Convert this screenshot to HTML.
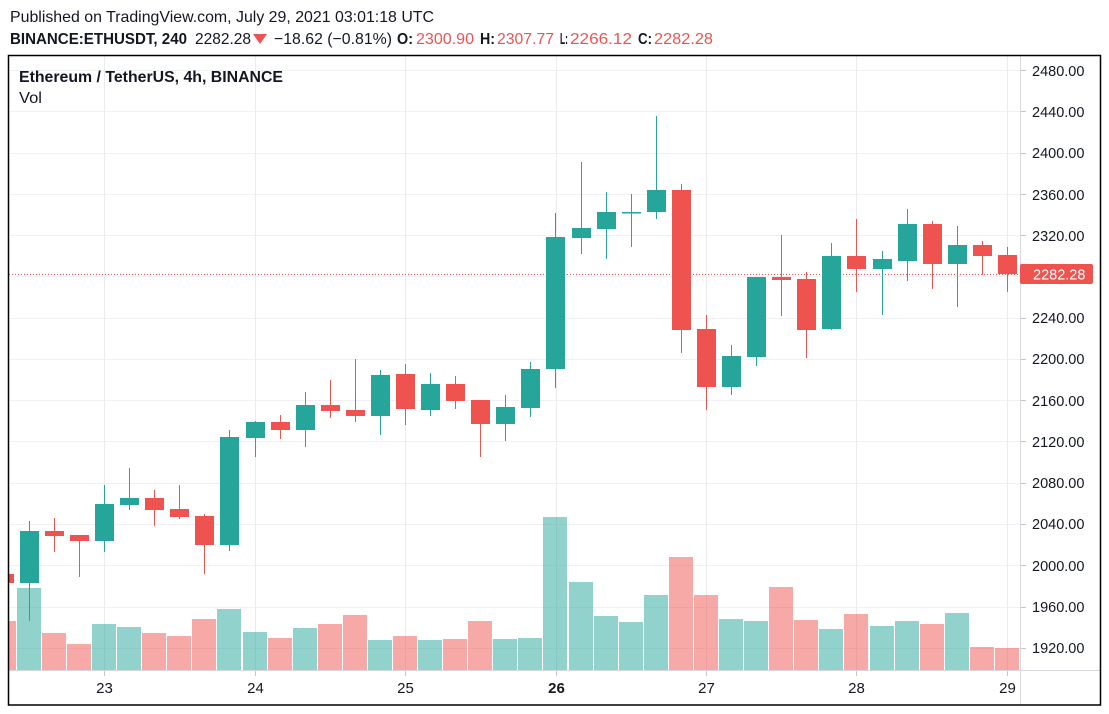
<!DOCTYPE html>
<html><head><meta charset="utf-8"><style>
html,body{margin:0;padding:0;background:#fff;}
svg{display:block;font-family:"Liberation Sans",Arial,sans-serif;}
</style></head><body>
<svg width="1109" height="714" viewBox="0 0 1109 714" xmlns="http://www.w3.org/2000/svg">
<rect x="0" y="0" width="1109" height="714" fill="#fff"/>
<!-- header -->
<text x="10" y="22" font-size="16" fill="#131722" textLength="424" lengthAdjust="spacingAndGlyphs">Published on TradingView.com, July 29, 2021 03:01:18 UTC</text>
<g font-size="16" fill="#131722">
<text x="10" y="44" font-weight="bold" textLength="177" lengthAdjust="spacingAndGlyphs">BINANCE:ETHUSDT, 240</text>
<text x="195" y="44" textLength="56" lengthAdjust="spacingAndGlyphs">2282.28</text>
<polygon points="253,34 267,34 260,44" fill="#ef5350"/>
<text x="274" y="44" textLength="118" lengthAdjust="spacingAndGlyphs">−18.62 (−0.81%)</text>
<text x="397" y="44" font-weight="bold" textLength="16" lengthAdjust="spacingAndGlyphs">O:</text>
<text x="416" y="44" fill="#ef5350" textLength="58" lengthAdjust="spacingAndGlyphs">2300.90</text>
<text x="480" y="44" font-weight="bold" textLength="15" lengthAdjust="spacingAndGlyphs">H:</text>
<text x="497" y="44" fill="#ef5350" textLength="57" lengthAdjust="spacingAndGlyphs">2307.77</text>
<text x="560" y="44" font-weight="bold" textLength="8" lengthAdjust="spacingAndGlyphs">L:</text>
<text x="570" y="44" fill="#ef5350" textLength="62" lengthAdjust="spacingAndGlyphs">2266.12</text>
<text x="638" y="44" font-weight="bold" textLength="14" lengthAdjust="spacingAndGlyphs">C:</text>
<text x="654" y="44" fill="#ef5350" textLength="59" lengthAdjust="spacingAndGlyphs">2282.28</text>
</g>
<defs><clipPath id="pane"><rect x="9" y="56" width="1011" height="614"/></clipPath></defs>
<!-- grid -->
<g stroke="#f0f1f4" stroke-width="1">
<line x1="9" x2="1020" y1="70.5" y2="70.5"/>
<line x1="9" x2="1020" y1="111.5" y2="111.5"/>
<line x1="9" x2="1020" y1="153.5" y2="153.5"/>
<line x1="9" x2="1020" y1="194.5" y2="194.5"/>
<line x1="9" x2="1020" y1="235.5" y2="235.5"/>
<line x1="9" x2="1020" y1="276.5" y2="276.5"/>
<line x1="9" x2="1020" y1="318.5" y2="318.5"/>
<line x1="9" x2="1020" y1="359.5" y2="359.5"/>
<line x1="9" x2="1020" y1="400.5" y2="400.5"/>
<line x1="9" x2="1020" y1="441.5" y2="441.5"/>
<line x1="9" x2="1020" y1="483.5" y2="483.5"/>
<line x1="9" x2="1020" y1="524.5" y2="524.5"/>
<line x1="9" x2="1020" y1="565.5" y2="565.5"/>
<line x1="9" x2="1020" y1="607.5" y2="607.5"/>
<line x1="9" x2="1020" y1="648.5" y2="648.5"/>
</g>
<g stroke="#ebebee" stroke-width="1">
<line x1="104.5" x2="104.5" y1="56" y2="670"/>
<line x1="255.5" x2="255.5" y1="56" y2="670"/>
<line x1="405.5" x2="405.5" y1="56" y2="670"/>
<line x1="556.5" x2="556.5" y1="56" y2="670"/>
<line x1="706.5" x2="706.5" y1="56" y2="670"/>
<line x1="856.5" x2="856.5" y1="56" y2="670"/>
<line x1="1007.5" x2="1007.5" y1="56" y2="670"/>
</g>
<g clip-path="url(#pane)">
<!-- volume -->
<g>
<rect x="-8" y="621" width="24" height="49" fill="rgba(239,83,80,0.5)"/>
<rect x="17" y="588" width="24" height="82" fill="rgba(38,166,154,0.5)"/>
<rect x="42" y="633" width="24" height="37" fill="rgba(239,83,80,0.5)"/>
<rect x="67" y="644" width="24" height="26" fill="rgba(239,83,80,0.5)"/>
<rect x="92" y="624" width="24" height="46" fill="rgba(38,166,154,0.5)"/>
<rect x="117" y="627" width="24" height="43" fill="rgba(38,166,154,0.5)"/>
<rect x="142" y="633" width="24" height="37" fill="rgba(239,83,80,0.5)"/>
<rect x="167" y="636" width="24" height="34" fill="rgba(239,83,80,0.5)"/>
<rect x="192" y="619" width="24" height="51" fill="rgba(239,83,80,0.5)"/>
<rect x="217" y="609" width="24" height="61" fill="rgba(38,166,154,0.5)"/>
<rect x="243" y="632" width="24" height="38" fill="rgba(38,166,154,0.5)"/>
<rect x="268" y="638" width="24" height="32" fill="rgba(239,83,80,0.5)"/>
<rect x="293" y="628" width="24" height="42" fill="rgba(38,166,154,0.5)"/>
<rect x="318" y="624" width="24" height="46" fill="rgba(239,83,80,0.5)"/>
<rect x="343" y="615" width="24" height="55" fill="rgba(239,83,80,0.5)"/>
<rect x="368" y="640" width="24" height="30" fill="rgba(38,166,154,0.5)"/>
<rect x="393" y="636" width="24" height="34" fill="rgba(239,83,80,0.5)"/>
<rect x="418" y="640" width="24" height="30" fill="rgba(38,166,154,0.5)"/>
<rect x="443" y="639" width="24" height="31" fill="rgba(239,83,80,0.5)"/>
<rect x="468" y="621" width="24" height="49" fill="rgba(239,83,80,0.5)"/>
<rect x="493" y="639" width="24" height="31" fill="rgba(38,166,154,0.5)"/>
<rect x="518" y="638" width="24" height="32" fill="rgba(38,166,154,0.5)"/>
<rect x="543" y="517" width="24" height="153" fill="rgba(38,166,154,0.5)"/>
<rect x="569" y="582" width="24" height="88" fill="rgba(38,166,154,0.5)"/>
<rect x="594" y="616" width="24" height="54" fill="rgba(38,166,154,0.5)"/>
<rect x="619" y="622" width="24" height="48" fill="rgba(38,166,154,0.5)"/>
<rect x="644" y="595" width="24" height="75" fill="rgba(38,166,154,0.5)"/>
<rect x="669" y="557" width="24" height="113" fill="rgba(239,83,80,0.5)"/>
<rect x="694" y="595" width="24" height="75" fill="rgba(239,83,80,0.5)"/>
<rect x="719" y="619" width="24" height="51" fill="rgba(38,166,154,0.5)"/>
<rect x="744" y="621" width="24" height="49" fill="rgba(38,166,154,0.5)"/>
<rect x="769" y="587" width="24" height="83" fill="rgba(239,83,80,0.5)"/>
<rect x="794" y="620" width="24" height="50" fill="rgba(239,83,80,0.5)"/>
<rect x="819" y="629" width="24" height="41" fill="rgba(38,166,154,0.5)"/>
<rect x="844" y="614" width="24" height="56" fill="rgba(239,83,80,0.5)"/>
<rect x="870" y="626" width="24" height="44" fill="rgba(38,166,154,0.5)"/>
<rect x="895" y="621" width="24" height="49" fill="rgba(38,166,154,0.5)"/>
<rect x="920" y="624" width="24" height="46" fill="rgba(239,83,80,0.5)"/>
<rect x="945" y="613" width="24" height="57" fill="rgba(38,166,154,0.5)"/>
<rect x="970" y="647" width="24" height="23" fill="rgba(239,83,80,0.5)"/>
<rect x="995" y="648" width="24" height="22" fill="rgba(239,83,80,0.5)"/>
</g>
<!-- last price dotted line -->
<line x1="9" x2="1020" y1="274.5" y2="274.5" stroke="#ef5350" stroke-width="1" stroke-dasharray="1,2"/>
<!-- candles: wick then body -->
<g fill="#ef5350">
<rect x="-5" y="574" width="19" height="9"/>
<rect x="54" y="518" width="1" height="34"/><rect x="45" y="531" width="19" height="5"/>
<rect x="79" y="535" width="1" height="42"/><rect x="70" y="535" width="19" height="6"/>
<rect x="154" y="490" width="1" height="36"/><rect x="145" y="498" width="19" height="12"/>
<rect x="179" y="485" width="1" height="34"/><rect x="170" y="509" width="19" height="8"/>
<rect x="204" y="514" width="1" height="60"/><rect x="195" y="516" width="19" height="29"/>
<rect x="280" y="415" width="1" height="24"/><rect x="271" y="422" width="19" height="8"/>
<rect x="330" y="380" width="1" height="38"/><rect x="321" y="405" width="19" height="6"/>
<rect x="355" y="359" width="1" height="63"/><rect x="346" y="410" width="19" height="6"/>
<rect x="405" y="364" width="1" height="61"/><rect x="396" y="374" width="19" height="35"/>
<rect x="455" y="376" width="1" height="33"/><rect x="446" y="384" width="19" height="17"/>
<rect x="480" y="400" width="1" height="57"/><rect x="471" y="400" width="19" height="24"/>
<rect x="681" y="184" width="1" height="169"/><rect x="672" y="190" width="19" height="140"/>
<rect x="706" y="315" width="1" height="95"/><rect x="697" y="329" width="19" height="58"/>
<rect x="781" y="235" width="1" height="81"/><rect x="772" y="277" width="19" height="3"/>
<rect x="806" y="272" width="1" height="86"/><rect x="797" y="279" width="19" height="51"/>
<rect x="856" y="219" width="1" height="73"/><rect x="847" y="256" width="19" height="13"/>
<rect x="932" y="221" width="1" height="68"/><rect x="923" y="224" width="19" height="40"/>
<rect x="982" y="241" width="1" height="34"/><rect x="973" y="245" width="19" height="11"/>
<rect x="1007" y="247" width="1" height="45"/><rect x="998" y="255" width="19" height="19"/>
</g>
<g fill="#26a69a">
<rect x="29" y="521" width="1" height="100"/><rect x="20" y="531" width="19" height="52"/>
<rect x="104" y="485" width="1" height="67"/><rect x="95" y="504" width="19" height="37"/>
<rect x="129" y="468" width="1" height="42"/><rect x="120" y="498" width="19" height="7"/>
<rect x="229" y="430" width="1" height="121"/><rect x="220" y="437" width="19" height="108"/>
<rect x="255" y="421" width="1" height="36"/><rect x="246" y="422" width="19" height="16"/>
<rect x="305" y="392" width="1" height="55"/><rect x="296" y="405" width="19" height="25"/>
<rect x="380" y="370" width="1" height="65"/><rect x="371" y="375" width="19" height="41"/>
<rect x="430" y="373" width="1" height="43"/><rect x="421" y="384" width="19" height="26"/>
<rect x="505" y="395" width="1" height="46"/><rect x="496" y="407" width="19" height="17"/>
<rect x="530" y="362" width="1" height="55"/><rect x="521" y="369" width="19" height="39"/>
<rect x="555" y="213" width="1" height="175"/><rect x="546" y="237" width="19" height="132"/>
<rect x="581" y="162" width="1" height="92"/><rect x="572" y="228" width="19" height="10"/>
<rect x="606" y="192" width="1" height="67"/><rect x="597" y="212" width="19" height="17"/>
<rect x="631" y="194" width="1" height="53"/><rect x="622" y="212" width="19" height="1.5"/>
<rect x="656" y="116" width="1" height="103"/><rect x="647" y="190" width="19" height="22"/>
<rect x="731" y="345" width="1" height="50"/><rect x="722" y="356" width="19" height="31"/>
<rect x="756" y="277" width="1" height="89"/><rect x="747" y="277" width="19" height="80"/>
<rect x="831" y="243" width="1" height="87"/><rect x="822" y="256" width="19" height="73"/>
<rect x="882" y="251" width="1" height="64"/><rect x="873" y="259" width="19" height="10"/>
<rect x="907" y="209" width="1" height="72"/><rect x="898" y="224" width="19" height="37"/>
<rect x="957" y="226" width="1" height="81"/><rect x="948" y="245" width="19" height="19"/>
</g>
</g>
<!-- legend -->
<text x="19" y="82" font-size="15.5" font-weight="bold" fill="#131722" textLength="264" lengthAdjust="spacingAndGlyphs">Ethereum / TetherUS, 4h, BINANCE</text>
<text x="19" y="103" font-size="15.5" fill="#131722" textLength="23" lengthAdjust="spacingAndGlyphs">Vol</text>
<!-- axes separators -->
<line x1="1020.5" x2="1020.5" y1="56" y2="705" stroke="#d6d8de" stroke-width="1"/>
<line x1="9" x2="1100" y1="670.5" y2="670.5" stroke="#d6d8de" stroke-width="1"/>
<!-- price ticks -->
<g stroke="#c3c6cf" stroke-width="1">
<line x1="1021" x2="1026" y1="70.5" y2="70.5"/>
<line x1="1021" x2="1026" y1="111.5" y2="111.5"/>
<line x1="1021" x2="1026" y1="153.5" y2="153.5"/>
<line x1="1021" x2="1026" y1="194.5" y2="194.5"/>
<line x1="1021" x2="1026" y1="235.5" y2="235.5"/>
<line x1="1021" x2="1026" y1="276.5" y2="276.5"/>
<line x1="1021" x2="1026" y1="318.5" y2="318.5"/>
<line x1="1021" x2="1026" y1="359.5" y2="359.5"/>
<line x1="1021" x2="1026" y1="400.5" y2="400.5"/>
<line x1="1021" x2="1026" y1="441.5" y2="441.5"/>
<line x1="1021" x2="1026" y1="483.5" y2="483.5"/>
<line x1="1021" x2="1026" y1="524.5" y2="524.5"/>
<line x1="1021" x2="1026" y1="565.5" y2="565.5"/>
<line x1="1021" x2="1026" y1="607.5" y2="607.5"/>
<line x1="1021" x2="1026" y1="648.5" y2="648.5"/>
<line x1="104.5" x2="104.5" y1="671" y2="676"/>
<line x1="255.5" x2="255.5" y1="671" y2="676"/>
<line x1="405.5" x2="405.5" y1="671" y2="676"/>
<line x1="556.5" x2="556.5" y1="671" y2="676"/>
<line x1="706.5" x2="706.5" y1="671" y2="676"/>
<line x1="856.5" x2="856.5" y1="671" y2="676"/>
<line x1="1007.5" x2="1007.5" y1="671" y2="676"/>
</g>
<!-- price labels -->
<g font-size="14.5" fill="#131722">
<text x="1032" y="76">2480.00</text>
<text x="1032" y="117">2440.00</text>
<text x="1032" y="158">2400.00</text>
<text x="1032" y="200">2360.00</text>
<text x="1032" y="241">2320.00</text>
<text x="1032" y="323">2240.00</text>
<text x="1032" y="364">2200.00</text>
<text x="1032" y="406">2160.00</text>
<text x="1032" y="447">2120.00</text>
<text x="1032" y="488">2080.00</text>
<text x="1032" y="529">2040.00</text>
<text x="1032" y="571">2000.00</text>
<text x="1032" y="612">1960.00</text>
<text x="1032" y="653">1920.00</text>
</g>
<rect x="1020" y="264" width="73" height="20" rx="2" fill="#ef5350"/>
<text x="1033" y="279.5" font-size="14.5" fill="#fff">2282.28</text>
<!-- time labels -->
<g font-size="15" fill="#131722" text-anchor="middle">
<text x="104.5" y="693">23</text>
<text x="255.5" y="693">24</text>
<text x="405.5" y="693">25</text>
<text x="556.5" y="693" font-weight="bold">26</text>
<text x="706.5" y="693">27</text>
<text x="856.5" y="693">28</text>
<text x="1007.5" y="693">29</text>
</g>
<!-- border -->
<rect x="8.5" y="55.5" width="1092" height="649.5" fill="none" stroke="#000" stroke-width="1.5"/>
</svg>
</body></html>
